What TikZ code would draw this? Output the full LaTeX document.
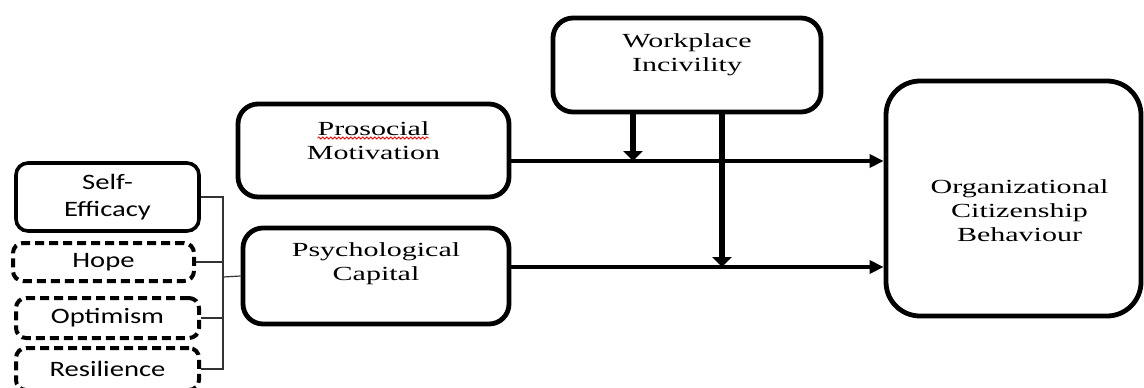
\documentclass[tikz,border=0pt]{standalone}
\usepackage{fontspec}
\newfontfamily\boxserif[FakeStretch=1.5]{Liberation Serif}
\newfontfamily\boxsans[FakeStretch=1.3]{Carlito}
\usetikzlibrary{positioning}
\usetikzlibrary{calc,arrows.meta}
\usetikzlibrary{decorations.pathmorphing}

\tikzset{
	mainbox/.style={draw, line width=2.4pt, rounded corners=10pt, inner sep=0pt},
	facbox/.style={draw, line width=1.8pt, rounded corners=6pt, inner sep=0pt,
		font=\boxsans\fontsize{11}{13.5}\selectfont, align=center},
	dimbox/.style={facbox, line width=2pt, rounded corners=5pt, dash pattern=on 4.5pt off 2.5pt},
	boxtext/.style={font=\boxserif\fontsize{10}{12}\selectfont, align=center, inner sep=0pt},
	pathline/.style={line width=1.9pt, -{Triangle[length=7pt,width=6.5pt]}},
	modline/.style={line width=2.7pt, -{Triangle[length=5pt,width=9.5pt]}},
	bracket/.style={line width=0.6pt, draw=black!80},
	squiggle/.style={red, line width=0.4pt, decorate,
		decoration={snake, amplitude=0.5pt, segment length=2pt}},
}

\begin{document}
\begin{tikzpicture}[x=0.5pt, y=-0.5pt]
	
	% picture is measured in pixels, y pointing down
	\useasboundingbox (0,0) rectangle (1144,387);
	
	% dimensions of psychological capital
	\node[facbox, minimum width=91.5pt, minimum height=34pt] (SE) at (107.5,197) {Self-\\Efficacy};
	\node[dimbox, minimum width=90.5pt, minimum height=19pt] (HO) at (103.5,262) {Hope};
	\node[dimbox, minimum width=91.5pt, minimum height=20pt] (OP) at (107.5,318) {Optimism};
	\node[dimbox, minimum width=91.5pt, minimum height=21pt] (RE) at (107.5,369) {Resilience};
	
	% main constructs: boxes first, their texts sit a little above centre
	\node[mainbox, minimum width=135.5pt, minimum height=46.5pt] (PM) at (373.5,150.5) {};
	\node[mainbox, minimum width=133pt, minimum height=48pt] (PC) at (376,276) {};
	\node[mainbox, minimum width=134pt, minimum height=47pt] (WI) at (687,65) {};
	\node[mainbox, rounded corners=17pt, minimum width=127.5pt, minimum height=117.5pt] (OCB) at (1013.5,198.5) {};
	
	\node[boxtext] (PMLabel) at ($(PM)+(0,-9.5)$) {Prosocial\\Motivation};
	\node[boxtext] (PCLabel) at ($(PC)+(0,-12)$) {Psychological\\Capital};
	\node[boxtext] (WILabel) at ($(WI)+(0,-10)$) {Workplace\\Incivility};
	\node[boxtext] (OCBLabel) at ($(OCB)+(6,12.5)$) {Organizational\\Citizenship\\Behaviour};
	
	\draw[squiggle] ($(PMLabel)+(-56,-3)$) -- ($(PMLabel)+(55,-3)$);
	
	% bracket joining the four dimensions
	\coordinate (Join) at (223,277);
	\draw[bracket] (SE.east) -| (Join);
	\draw[bracket] (HO.east) -| (Join);
	\draw[bracket] (OP.east) -| (Join);
	\draw[bracket] (RE.east) -| (Join);
	\draw[bracket] (Join) -- (PC.west);
	
	% direct paths
	\coordinate (P1) at ([yshift=-5.25pt]PM.east);
	\coordinate (P2) at ([yshift=4.5pt]PC.east);
	\draw[pathline] (P1) -- (P1 -| OCB.west);
	\draw[pathline] (P2) -- (P2 -| OCB.west);
	
	% moderation by incivility
	\coordinate (M1) at ([xshift=-27pt]WI.south);
	\coordinate (M2) at ([xshift=17.5pt]WI.south);
	\draw[modline] (M1) -- (M1 |- P1);
	\draw[modline] (M2) -- (M2 |- P2);
	
\end{tikzpicture}
\end{document}
